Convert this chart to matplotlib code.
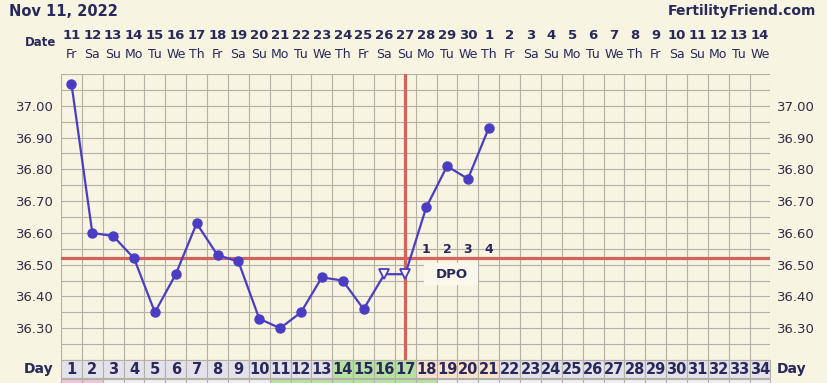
import matplotlib
matplotlib.use('Agg')
import matplotlib.pyplot as plt
import matplotlib.transforms as mtransforms
from matplotlib.patches import Rectangle

# chart data
days        = list(range(1, 35))
dates       = ['11', '12', '13', '14', '15', '16', '17', '18', '19', '20', '21',
               '22', '23', '24', '25', '26', '27', '28', '29', '30', '1', '2',
               '3', '4', '5', '6', '7', '8', '9', '10', '11', '12', '13', '14']
weekdays    = ['Fr', 'Sa', 'Su', 'Mo', 'Tu', 'We', 'Th'] * 5
weekdays    = weekdays[:34]
temp_days   = list(range(1, 22))
temps       = [37.07, 36.60, 36.59, 36.52, 36.35, 36.47, 36.63, 36.53, 36.51,
               36.33, 36.30, 36.35, 36.46, 36.45, 36.36, 36.47, 36.47, 36.68,
               36.81, 36.77, 36.93]
open_days   = [16, 17]          # open markers
coverline   = 36.52
ovulation   = 17
dpo_days    = [18, 19, 20, 21]
dpo_labels  = ['1', '2', '3', '4']
green_days  = [14, 15, 16, 17]
peach_days  = [18, 19, 20, 21]
pink_below  = [1, 2]
green_below = [11, 12, 13, 14, 15, 16, 17, 18]
ytick_vals  = [37.00, 36.90, 36.80, 36.70, 36.60, 36.50, 36.40, 36.30]

# colours
BG     = '#F7F4E1'
GRID   = '#B3B1A5'
BLUE   = '#4A3DC4'
RED    = '#D2635D'
NAVY   = '#28285A'
GREY   = '#E3E1EA'
GREEN  = '#B8E2A2'
PEACH  = '#FBE2CC'
PINK   = '#F2C4D6'

W, H = 828, 383
fig = plt.figure(figsize=(W/100, H/100), dpi=100, facecolor=BG)

# plot area in pixels
x0, x1 = 61, 770.5
ytop, ybot = 74, 360
ax = fig.add_axes([x0/W, (H-ybot)/H, (x1-x0)/W, (ybot-ytop)/H])
ax.set_facecolor(BG)
ax.set_xlim(0.5, 34.5)
ax.set_ylim(36.20, 37.10)
for s in ax.spines.values():
    s.set_visible(False)

def ya(ypix):
    # figure pixel row -> axes fraction
    return (ybot - ypix) / (ybot - ytop)

tr = mtransforms.blended_transform_factory(ax.transData, ax.transAxes)

# grid
for k in range(35):
    ax.axvline(0.5 + k, color=GRID, lw=0.8, zorder=1)
for k in range(19):
    ax.axhline(36.20 + 0.05*k, color=GRID, lw=0.8, zorder=1)

# tick labels both sides
ax.set_xticks([])
ax.set_yticks(ytick_vals)
ax.set_yticklabels(['%.2f' % v for v in ytick_vals])
ax.tick_params(axis='y', length=0, left=False, right=False,
               labelleft=True, labelright=True, labelsize=9.5,
               labelcolor='#2E2D45', pad=5)

# cover line and ovulation line
ax.axhline(coverline, color=RED, lw=2.3, zorder=2)
ax.axvline(ovulation, color=RED, lw=2.3, zorder=2)

# temperature line
ax.plot(temp_days, temps, color=BLUE, lw=1.6, zorder=4)
solid_d = [d for d in temp_days if d not in open_days]
solid_t = [t for d, t in zip(temp_days, temps) if d not in open_days]
open_t  = [t for d, t in zip(temp_days, temps) if d in open_days]
ax.plot(solid_d, solid_t, 'o', color=BLUE, ms=6.5, zorder=5)
ax.plot(open_days, open_t, 'v', mfc=BG, mec=BLUE, mew=1.3, ms=7.5,
        zorder=5)

# DPO labels
for d, lab in zip(dpo_days, dpo_labels):
    ax.text(d, coverline + 0.008, lab, ha='center', va='bottom',
            fontsize=9, fontweight='bold', color=NAVY, zorder=6)
ax.add_patch(Rectangle((17.9, coverline - 0.085), 2.6, 0.07,
                       fc='#FAF8EC', ec='none', zorder=5))
ax.text(19.25, coverline - 0.05, 'DPO', ha='center', va='center',
        fontsize=9.5, fontweight='bold', color=NAVY, zorder=6)

# day row
for d in days:
    fc = GREY
    if d in green_days:
        fc = GREEN
    elif d in peach_days:
        fc = PEACH
    ax.add_patch(Rectangle((d - 0.5, ya(378)), 1, ya(360) - ya(378),
                           transform=tr, fc=fc, ec=GRID, lw=0.8,
                           clip_on=False, zorder=3))
    ax.text(d, ya(369.5), str(d), transform=tr, ha='center', va='center',
            fontsize=10.5, fontweight='bold', color=NAVY, clip_on=False)
    # partial next row
    fc2 = '#F1EFF1'
    if d in pink_below:
        fc2 = PINK
    elif d in green_below:
        fc2 = GREEN
    ax.add_patch(Rectangle((d - 0.5, ya(392)), 1, ya(379) - ya(392),
                           transform=tr, fc=fc2, ec=GRID, lw=0.8,
                           clip_on=False, zorder=3))

fig.text(53/W, 1 - 369.5/H, 'Day', ha='right', va='center', fontsize=10,
         fontweight='bold', color=NAVY)
fig.text(777/W, 1 - 369.5/H, 'Day', ha='left', va='center', fontsize=10,
         fontweight='bold', color=NAVY)

# date rows
for d, dt, wd in zip(days, dates, weekdays):
    ax.text(d, ya(35), dt, transform=tr, ha='center', va='center',
            fontsize=9.5, fontweight='bold', color=NAVY, clip_on=False)
    ax.text(d, ya(54), wd, transform=tr, ha='center', va='center',
            fontsize=9, color=NAVY, clip_on=False)
fig.text(56/W, 1 - 42/H, 'Date', ha='right', va='center', fontsize=8.5,
         fontweight='bold', color=NAVY)

# header
fig.text(9/W, 1 - 11/H, 'Nov 11, 2022', ha='left', va='center',
         fontsize=10.5, fontweight='bold', color=NAVY)
fig.text(816/W, 1 - 11/H, 'FertilityFriend.com', ha='right', va='center',
         fontsize=10, fontweight='bold', color=NAVY)

fig.savefig('out.png', dpi=100, facecolor=BG)
